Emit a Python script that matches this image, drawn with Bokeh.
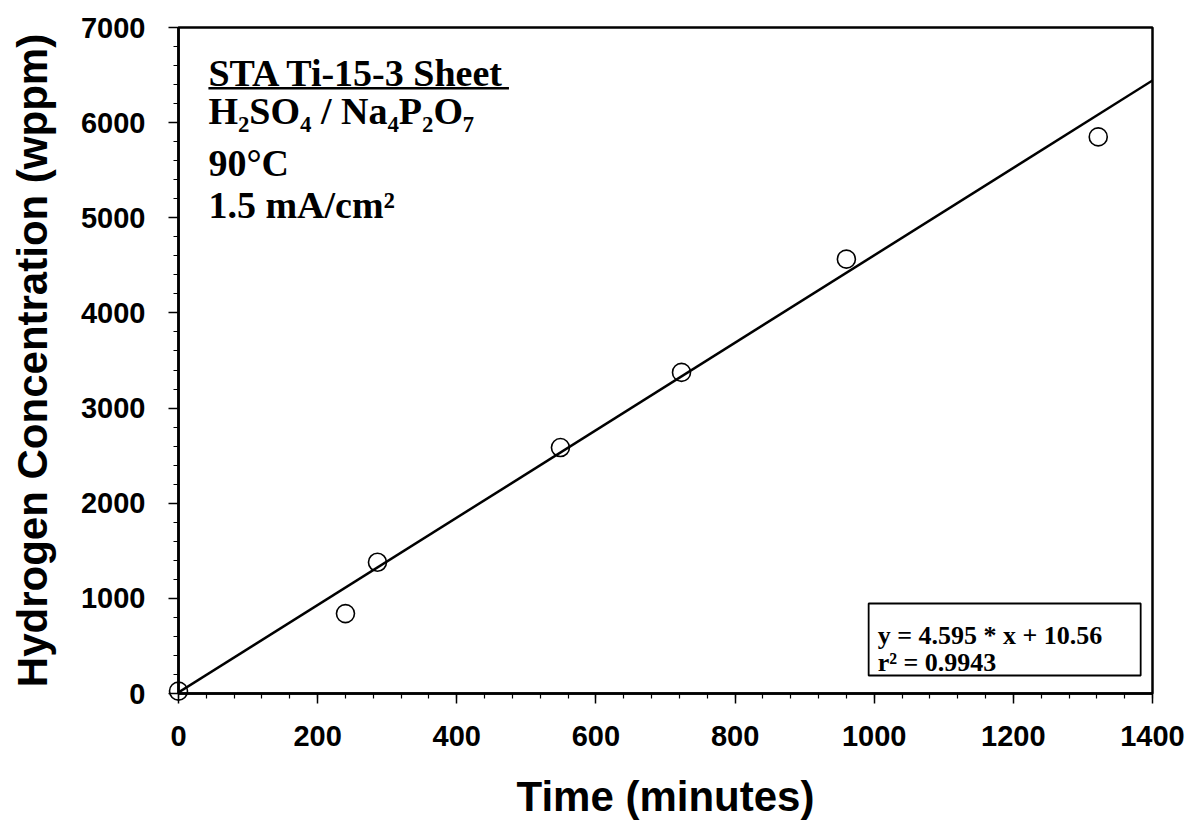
from bokeh.plotting import figure
from bokeh.models import Range1d, Label, BoxAnnotation, SingleIntervalTicker
from bokeh.embed import file_html
from bokeh.resources import INLINE

# Data
time_min = [0, 240, 286, 549, 723, 960, 1322]
hydrogen_wppm = [25, 840, 1380, 2585, 3375, 4565, 5850]

fit_slope = 4.595
fit_intercept = 10.56
fit_x = [0, 1400]
fit_y = [fit_slope * v + fit_intercept for v in fit_x]

x_ticks_major = 200
y_ticks_major = 1000

title_lines = ["STA Ti-15-3 Sheet", "H\u2082SO\u2084 / Na\u2084P\u2082O\u2087", "90\u00b0C", "1.5 mA/cm\u00b2"]
eq_lines = ["y = 4.595 * x + 10.56", "r\u00b2 = 0.9943"]

p = figure(width=1190, height=833, output_backend="svg", toolbar_location=None,
           x_range=Range1d(0, 1400), y_range=Range1d(0, 7000),
           min_border_left=178, min_border_right=38, min_border_top=27, min_border_bottom=140)
p.background_fill_color = "white"
p.border_fill_color = "white"
p.xgrid.visible = False
p.ygrid.visible = False
p.outline_line_color = "black"
p.outline_line_width = 2.5

p.xaxis.ticker = SingleIntervalTicker(interval=x_ticks_major, num_minor_ticks=5)
p.yaxis.ticker = SingleIntervalTicker(interval=y_ticks_major, num_minor_ticks=5)

for ax in (p.xaxis[0], p.yaxis[0]):
    ax.axis_line_width = 2.5
    ax.axis_line_color = "black"
    ax.major_tick_in = 0
    ax.major_tick_out = 10
    ax.minor_tick_in = 0
    ax.minor_tick_out = 5
    ax.major_tick_line_width = 1.5
    ax.minor_tick_line_width = 1.2
    ax.major_tick_line_color = "black"
    ax.minor_tick_line_color = "black"
    ax.major_label_text_font = "Liberation Sans"
    ax.major_label_text_font_style = "bold"
    ax.major_label_text_font_size = "29px"
    ax.major_label_text_color = "black"
    ax.axis_label_text_font = "Liberation Sans"
    ax.axis_label_text_font_style = "bold"
    ax.axis_label_text_font_size = "42px"
    ax.axis_label_text_color = "black"

p.xaxis.axis_label = "Time (minutes)"
p.yaxis.axis_label = "Hydrogen Concentration (wppm)"
p.xaxis.major_label_standoff = 22
p.yaxis.major_label_standoff = 23
p.xaxis.axis_label_standoff = 24
p.yaxis.axis_label_standoff = 22

# Fit line
p.line(fit_x, fit_y, line_color="black", line_width=2.5)
# Data points (overlay level so the point at the origin is not clipped)
pts = p.scatter(time_min, hydrogen_wppm, marker="circle", size=18, fill_color="white",
                fill_alpha=0, line_color="black", line_width=1.6)
pts.level = "overlay"

serif = "Liberation Serif"
px_per_unit = 666 / 7000.0


def data_y(pix_from_top, font_px):
    # alphabetic-baseline correction observed in rendering
    corr = 0.32 * font_px
    return (693 - pix_from_top + corr) / px_per_unit


label_x = 43
title_font = 38
for t, base in zip(title_lines, [85, 123, 175, 217]):
    p.add_layout(Label(x=label_x, y=data_y(base, title_font), text=t, text_font=serif,
                       text_font_style="bold", text_font_size=f"{title_font}px",
                       text_color="black", text_baseline="alphabetic"))
# underline of first line
p.add_layout(BoxAnnotation(left=label_x, right=475, bottom=(693 - 89) / px_per_unit,
                           top=(693 - 86.5) / px_per_unit,
                           fill_color="black", fill_alpha=1, line_alpha=0))

# Equation box
p.add_layout(BoxAnnotation(left=992, right=1383, bottom=189, top=946,
                           fill_color="white", fill_alpha=1, line_color="black",
                           line_alpha=1, line_width=1.8))
eq_font = 26
for t, base in zip(eq_lines, [643, 670]):
    p.add_layout(Label(x=1005, y=data_y(base, eq_font), text=t, text_font=serif,
                       text_font_style="bold", text_font_size=f"{eq_font}px",
                       text_color="black", text_baseline="alphabetic"))

open("out.html", "w").write(file_html(p, INLINE))
